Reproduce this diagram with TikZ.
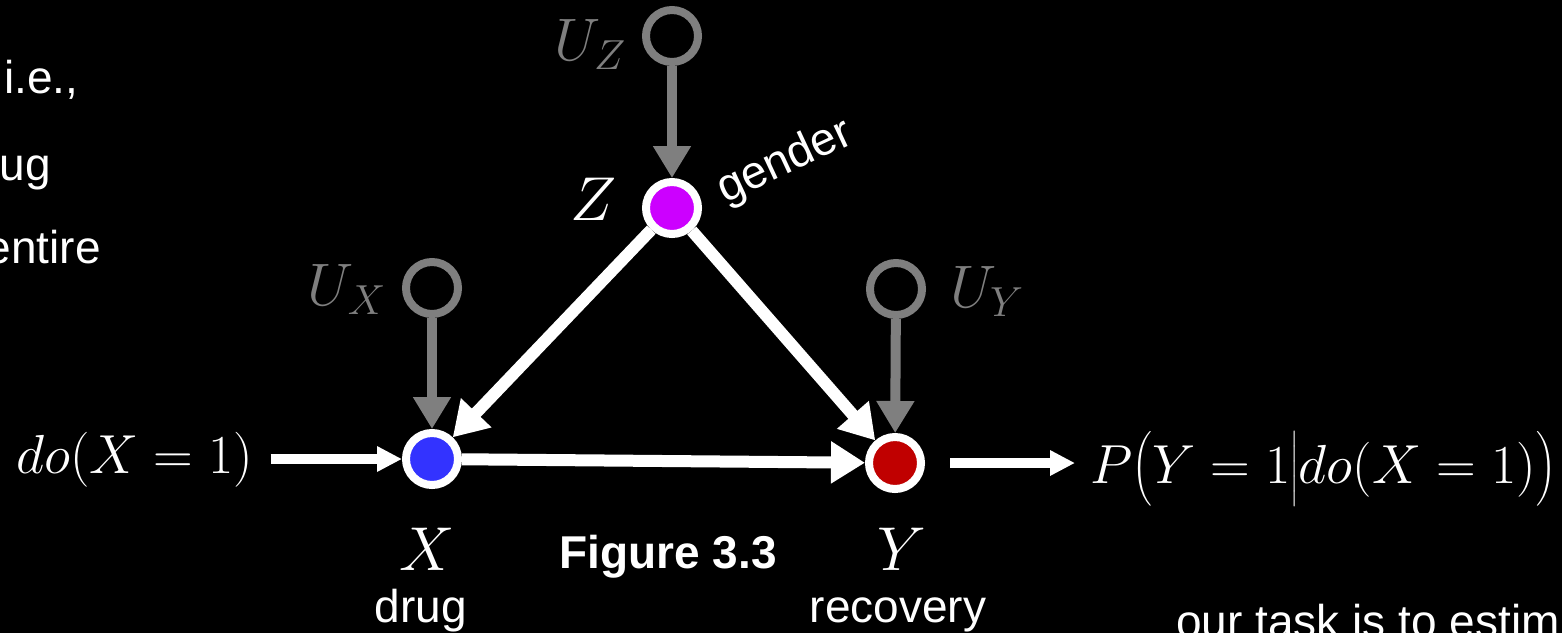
\RequirePackage{fix-cm}
\documentclass[tikz,border=0pt]{standalone}
\usepackage{amsmath}
\usepackage{fontspec}
\setmainfont{Liberation Sans}
\usetikzlibrary{arrows.meta}
\definecolor{ugray}{RGB}{127,127,127}
\definecolor{zcol}{RGB}{204,0,255}
\definecolor{xcol}{RGB}{51,51,255}
\definecolor{ycol}{RGB}{192,0,0}
\tikzset{
  ringnode/.style={circle, draw=white, line width=8pt, minimum size=52pt, inner sep=0pt},
  unode/.style={circle, draw=ugray, line width=8pt, minimum size=52pt, inner sep=0pt},
  wedge/.style={white, line width=12pt, -{Triangle[length=34pt,width=40pt]}},
  gedge/.style={ugray, line width=10pt, -{Triangle[length=32pt,width=36pt]}},
  sedge/.style={white, line width=10pt, -{Triangle[length=25pt,width=24pt]}},
  txt/.style={text=white, inner sep=0pt, font=\fontsize{46}{52}\selectfont},
  mlab/.style={text=white, inner sep=0pt, font=\fontsize{62}{70}\selectfont},
  ulab/.style={text=ugray, inner sep=0pt, font=\fontsize{60}{68}\selectfont},
  eqn/.style={text=white, inner sep=0pt, font=\fontsize{55}{62}\selectfont}
}
\begin{document}
\begin{tikzpicture}[x=1pt,y=-1pt]
\fill[black] (0,0) rectangle (1562,633);
\useasboundingbox (0,0) rectangle (1562,633);
\clip (0,0) rectangle (1562,633);

% left cut-off text
\node[txt, anchor=base west] (t1) at (4,93) {i.e.,};
\node[txt, anchor=base east] (t2) at (51,180) {ug};
\node[txt, anchor=base east] (t3) at (101,263) {entire};

% exogenous nodes
\node[unode] (UZ) at (672,36) {};
\node[unode] (UX) at (432,288) {};
\node[unode] (UY) at (896,289) {};
\node[ulab, anchor=base east] (UZl) at (626,60) {$U_Z$};
\node[ulab, anchor=base east] (UXl) at (386,305) {$U_X$};
\node[ulab, anchor=base west] (UYl) at (950,307) {$U_Y$};

% main nodes
\node[ringnode, fill=zcol] (Z) at (672,208) {};
\node[ringnode, fill=xcol] (X) at (432,459) {};
\node[ringnode, fill=ycol] (Y) at (895,463) {};

\node[mlab, anchor=base] (Zl) at (593,220) {$Z$};
\node[mlab, anchor=base] (Xl) at (427,570) {$X$};
\node[mlab, anchor=base] (Yl) at (902,570) {$Y$};
\node[txt, anchor=base] (drug) at (421,622) {drug};
\node[txt, anchor=base] (rec) at (898,622) {recovery};
\node[txt, anchor=base, font=\fontsize{46}{52}\selectfont\bfseries] (fig) at (668,568) {Figure 3.3};
\node[txt, rotate=25] (gender) at (785,162) {gender};

% edges
\draw[gedge] (UZ) -- (Z);
\draw[gedge] (UX) -- (X);
\draw[gedge] (UY) -- (Y);
\draw[wedge] (Z) -- (X);
\draw[wedge] (Z) -- (Y);
\draw[wedge] (X) -- (Y);

% intervention and query
\node[eqn, anchor=base west] (do) at (16,473) {$do(X = 1)$};
\node[eqn, anchor=base west] (P) at (1090,483) {$P\bigl(Y = 1\big|do(X = 1)\bigr)$};
\draw[sedge] ([xshift=17pt]do.east |- X) -- (X);
\draw[sedge, shorten <=25pt] (Y) -- ([xshift=-15pt]P.west |- Y);

\node[txt, anchor=base west] (task) at (1176,637) {our task is to estim};
\end{tikzpicture}
\end{document}
